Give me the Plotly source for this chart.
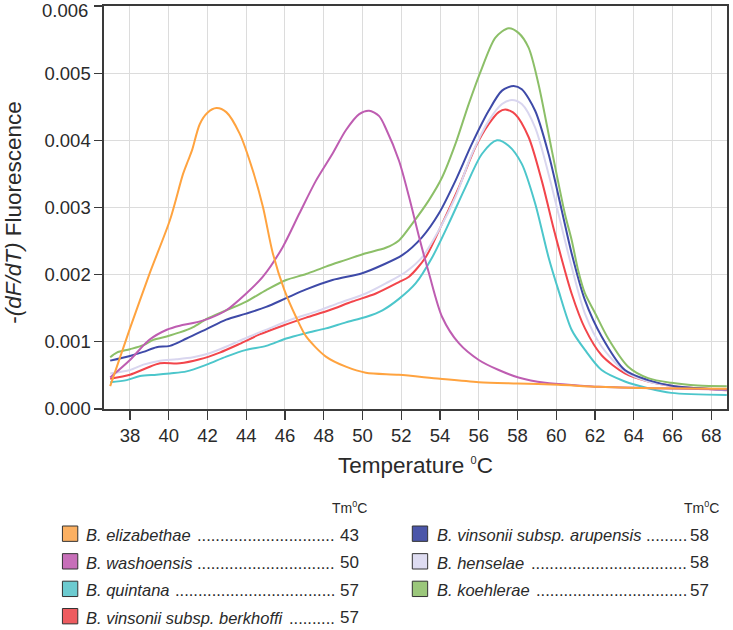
import plotly.graph_objects as go

# ---------------- data ----------------
names_left = ["B. elizabethae", "B. washoensis", "B. quintana", "B. vinsonii subsp. berkhoffi"]
tm_left = [43, 50, 57, 57]
names_right = ["B. vinsonii subsp. arupensis", "B. henselae", "B. koehlerae"]
tm_right = [58, 58, 57]

eliz_T = [36.98, 38.0, 39.03, 40.06, 40.74, 41.0, 41.2, 41.6, 42.0, 42.46, 42.97, 43.66, 44.34, 44.86,
          45.37, 45.97, 46.57, 47.09, 48.11, 49.14, 50.17, 51.88, 54.0, 56.0, 58.0, 60.1, 62.17, 65.0, 68.8]
eliz_v = [0.00034, 0.00120, 0.00203, 0.00281, 0.00350, 0.00370, 0.00385, 0.00424, 0.00441, 0.00448,
          0.00442, 0.00410, 0.00355, 0.00301, 0.00232, 0.00177, 0.00137, 0.00108, 0.00078, 0.00063,
          0.00054, 0.00051, 0.00045, 0.00040, 0.00038, 0.00036, 0.00033, 0.00031, 0.00030]

wash_T = [36.98, 38.0, 39.0, 39.9, 40.57, 41.26, 42.1, 42.97, 44.0, 44.86, 45.88, 46.74, 47.6, 48.45,
          49.14, 49.83, 50.34, 50.86, 51.2, 51.88, 52.4, 52.92, 53.43, 54.11, 54.97, 56.0, 57.03, 58.05,
          59.43, 61.1, 62.2, 65.0, 68.8]
wash_v = [0.00047, 0.00073, 0.00103, 0.00118, 0.00124, 0.00128, 0.00135, 0.00147, 0.00172, 0.00197,
          0.00241, 0.00291, 0.00340, 0.00380, 0.00415, 0.00439, 0.00444, 0.00436, 0.00418, 0.00370,
          0.00316, 0.00256, 0.00202, 0.00137, 0.00098, 0.00073, 0.00058, 0.00047, 0.00039, 0.00035,
          0.00033, 0.00031, 0.00029]

quin_T = [36.98, 37.83, 38.52, 39.37, 40.06, 40.92, 41.95, 42.97, 44.0, 45.03, 46.06, 47.09, 48.11, 49.14,
          50.17, 51.03, 51.88, 52.74, 53.6, 54.45, 55.31, 56.17, 56.94, 57.54, 58.22, 58.91, 59.6, 60.11,
          60.79, 61.48, 62.34, 63.54, 64.74, 65.93, 68.8]
quin_v = [0.00040, 0.00043, 0.00049, 0.00051, 0.00053, 0.00056, 0.00066, 0.00078, 0.00088, 0.00094,
          0.00105, 0.00113, 0.00120, 0.00129, 0.00137, 0.00147, 0.00164, 0.00187, 0.00226, 0.00276,
          0.00330, 0.00380, 0.00400, 0.00392, 0.00365, 0.00306, 0.00226, 0.00177, 0.00118, 0.00088,
          0.00058, 0.00041, 0.00031, 0.00024, 0.00021]

berk_T = [36.98, 38.0, 38.86, 39.55, 40.57, 41.6, 42.63, 43.66, 44.69, 45.88, 47.09, 48.28, 49.48, 50.69,
          51.88, 52.4, 53.26, 54.11, 54.97, 55.83, 56.51, 57.03, 57.37, 57.88, 58.57, 59.25, 59.94, 60.79,
          61.48, 62.34, 63.54, 64.74, 66.11, 68.8]
berk_v = [0.00045, 0.00051, 0.00061, 0.00068, 0.00068, 0.00074, 0.00084, 0.00097, 0.00111, 0.00124,
          0.00136, 0.00147, 0.00160, 0.00172, 0.00189, 0.00197, 0.00226, 0.00276, 0.00330, 0.00390,
          0.00424, 0.00442, 0.00446, 0.00439, 0.00405, 0.00340, 0.00260, 0.00172, 0.00120, 0.00080,
          0.00053, 0.00041, 0.00034, 0.00028]

arup_T = [36.98, 38.0, 38.69, 39.37, 40.06, 40.92, 41.95, 42.97, 44.0, 45.03, 46.06, 47.09, 48.45, 49.98,
          51.0, 52.05, 53.08, 53.94, 54.8, 55.65, 56.51, 57.2, 57.8, 58.22, 58.91, 59.6, 60.28, 60.79,
          61.48, 62.34, 63.54, 64.74, 66.11, 68.8]
arup_v = [0.00072, 0.00079, 0.00085, 0.00092, 0.00094, 0.00105, 0.00119, 0.00133, 0.00142, 0.00152,
          0.00165, 0.00178, 0.00192, 0.00202, 0.00214, 0.00229, 0.00256, 0.00291, 0.00340, 0.00395,
          0.00444, 0.00474, 0.00481, 0.00476, 0.00444, 0.00380, 0.00296, 0.00232, 0.00162, 0.00108,
          0.00058, 0.00043, 0.00034, 0.00029]

hens_T = [36.98, 38.0, 38.69, 39.55, 40.4, 41.26, 42.1, 43.14, 44.17, 45.2, 46.4, 47.6, 48.8, 50.17,
          51.2, 52.23, 53.08, 53.94, 54.8, 55.65, 56.51, 57.2, 57.71, 58.22, 58.91, 59.6, 60.11, 60.79,
          61.48, 62.34, 63.54, 64.74, 66.11, 68.8]
hens_v = [0.00053, 0.00058, 0.00066, 0.00072, 0.00074, 0.00077, 0.00083, 0.00095, 0.00108, 0.00120,
          0.00134, 0.00145, 0.00158, 0.00172, 0.00187, 0.00204, 0.00226, 0.00266, 0.00316, 0.00380,
          0.00429, 0.00454, 0.00460, 0.00454, 0.00419, 0.00350, 0.00291, 0.00212, 0.00142, 0.00093,
          0.00056, 0.00041, 0.00034, 0.00028]

koeh_T = [36.98, 37.32, 38.0, 38.69, 39.2, 39.89, 40.57, 41.26, 41.95, 42.97, 44.0, 45.03, 46.06, 47.09,
          48.11, 49.14, 50.17, 51.2, 51.88, 52.57, 53.43, 54.11, 54.8, 55.48, 56.17, 56.86, 57.54, 58.05,
          58.57, 59.08, 59.77, 60.45, 60.79, 61.14, 61.48, 62.0, 62.68, 63.71, 64.74, 65.93, 67.31, 68.8]
koeh_v = [0.00077, 0.00084, 0.00089, 0.00095, 0.00103, 0.00108, 0.00114, 0.00122, 0.00134, 0.00147,
          0.00160, 0.00177, 0.00192, 0.00201, 0.00212, 0.00222, 0.00232, 0.00240, 0.00251, 0.00276,
          0.00311, 0.00345, 0.00395, 0.00454, 0.00508, 0.00553, 0.00567, 0.00560, 0.00538, 0.00484,
          0.00385, 0.00290, 0.00252, 0.00205, 0.00172, 0.00143, 0.00105, 0.00063, 0.00046, 0.00039,
          0.00035, 0.00034]

x_ticks = [38, 40, 42, 44, 46, 48, 50, 52, 54, 56, 58, 60, 62, 64, 66, 68]
y_ticks = [0.000, 0.001, 0.002, 0.003, 0.004, 0.005, 0.006]
y_tick_text = ["0.000", "0.001", "0.002", "0.003", "0.004", "0.005", " "]  # 0.006 drawn lower, see below
y_top_label = "0.006"

# ---------------- styling ----------------
line_cols = {"eliz": "#FFA33F", "wash": "#BE5DB1", "quin": "#4CC6CB", "berk": "#F2454B",
             "arup": "#3E4AA8", "hens": "#D9D6EF", "koeh": "#8CBF68"}
box_cols = {"eliz": "#FBB062", "wash": "#C76FB9", "quin": "#6CCBD0", "berk": "#EE5C60",
            "arup": "#4B56A9", "hens": "#DEDCF1", "koeh": "#9BC77B"}
FONT = "Liberation Sans, Arial, Helvetica, sans-serif"
TXT = "#2a2a2a"
DEG = "<sup><span style='font-size:11px'>0</span></sup>"
DEG_SMALL = "<sup><span style='font-size:9px'>0</span></sup>"

W, H = 733, 630
L, R, T, B = 104, 729, 5, 409
PW, PH = R - L, B - T


def px(x):
    return (x - L) / PW


def py(y):
    return (B - y) / PH


fig = go.Figure()
series = [("quin", quin_T, quin_v), ("berk", berk_T, berk_v), ("hens", hens_T, hens_v),
          ("arup", arup_T, arup_v), ("koeh", koeh_T, koeh_v), ("wash", wash_T, wash_v),
          ("eliz", eliz_T, eliz_v)]
for key, xs, ys in series:
    fig.add_trace(go.Scatter(x=xs, y=ys, mode="lines",
                             line=dict(color=line_cols[key], width=2, shape="spline", smoothing=0.8),
                             showlegend=False, hoverinfo="skip"))

axis_common = dict(showline=True, mirror=True, linecolor="#3a3a3a", linewidth=1.6,
                   ticks="outside", tickcolor="#3a3a3a", tickwidth=1.3,
                   showgrid=True, gridcolor="#DCDCDC", gridwidth=1, zeroline=False,
                   tickfont=dict(family=FONT, size=18.5, color=TXT))
fig.update_xaxes(range=[36.66, 68.81], tickvals=x_ticks, ticklen=9, **axis_common)
fig.update_yaxes(range=[0, 0.006], tickvals=y_ticks, ticktext=y_tick_text, ticklen=8, **axis_common)

annotations = []
shapes = []
annotations.append(dict(x=px(90), y=py(9.5), xref="paper", yref="paper", showarrow=False,
                        text=y_top_label, xanchor="right", yanchor="middle",
                        font=dict(family=FONT, size=18.5, color=TXT)))
# axis titles
annotations.append(dict(x=px(416.5), y=py(466), xref="paper", yref="paper", showarrow=False,
                        text="Temperature " + DEG + "C", xanchor="center", yanchor="middle",
                        font=dict(family=FONT, size=22.5, color=TXT)))
annotations.append(dict(x=px(13), y=py(212), xref="paper", yref="paper", showarrow=False,
                        text="-<i>(dF/dT)</i> Fluorescence", textangle=-90,
                        xanchor="center", yanchor="middle",
                        font=dict(family=FONT, size=22.5, color=TXT)))

# legend block
row_y = [534, 561.7, 589.3, 616.7]
left_keys = ["eliz", "wash", "quin", "berk"]
right_keys = ["arup", "hens", "koeh"]
left_dots = [30, 30, 35, 10]
right_dots = [9, 34, 33]


def legend_column(keys, names, tms, dots, sq_x, name_x, dots_end, num_x, head_x):
    annotations.append(dict(x=px(head_x), y=py(508), xref="paper", yref="paper", showarrow=False,
                            text="Tm" + DEG_SMALL + "C", xanchor="center", yanchor="middle",
                            font=dict(family=FONT, size=14, color=TXT)))
    for i, (k, nm, tm, nd) in enumerate(zip(keys, names, tms, dots)):
        yc = row_y[i]
        shapes.append(dict(type="rect", xref="paper", yref="paper",
                           x0=px(sq_x), x1=px(sq_x + 15.4), y0=py(yc + 7.7), y1=py(yc - 7.7),
                           fillcolor=box_cols[k], line=dict(color="#333333", width=1)))
        annotations.append(dict(x=px(name_x), y=py(yc + 1.5), xref="paper", yref="paper",
                                showarrow=False, text="<i>" + nm + "</i>", xanchor="left",
                                yanchor="middle", font=dict(family=FONT, size=16.5, color=TXT)))
        annotations.append(dict(x=px(dots_end), y=py(yc + 1.5), xref="paper", yref="paper",
                                showarrow=False, text="." * nd, xanchor="right",
                                yanchor="middle", font=dict(family=FONT, size=16.5, color=TXT)))
        annotations.append(dict(x=px(num_x), y=py(yc + 1.5), xref="paper", yref="paper",
                                showarrow=False, text=str(tm), xanchor="center",
                                yanchor="middle", font=dict(family=FONT, size=17, color=TXT)))


legend_column(left_keys, names_left, tm_left, left_dots, 62.3, 84, 338, 350.5, 350)
legend_column(right_keys, names_right, tm_right, right_dots, 413.3, 436, 691, 701.5, 703)

fig.update_layout(width=W, height=H, margin=dict(l=L, r=W - R, t=T, b=H - B),
                  paper_bgcolor="white", plot_bgcolor="white",
                  annotations=annotations, shapes=shapes, showlegend=False)

fig.write_html("out.html", config={"displayModeBar": False, "staticPlot": True},
               post_script="document.body.style.margin='0';document.body.style.overflow='hidden';")
